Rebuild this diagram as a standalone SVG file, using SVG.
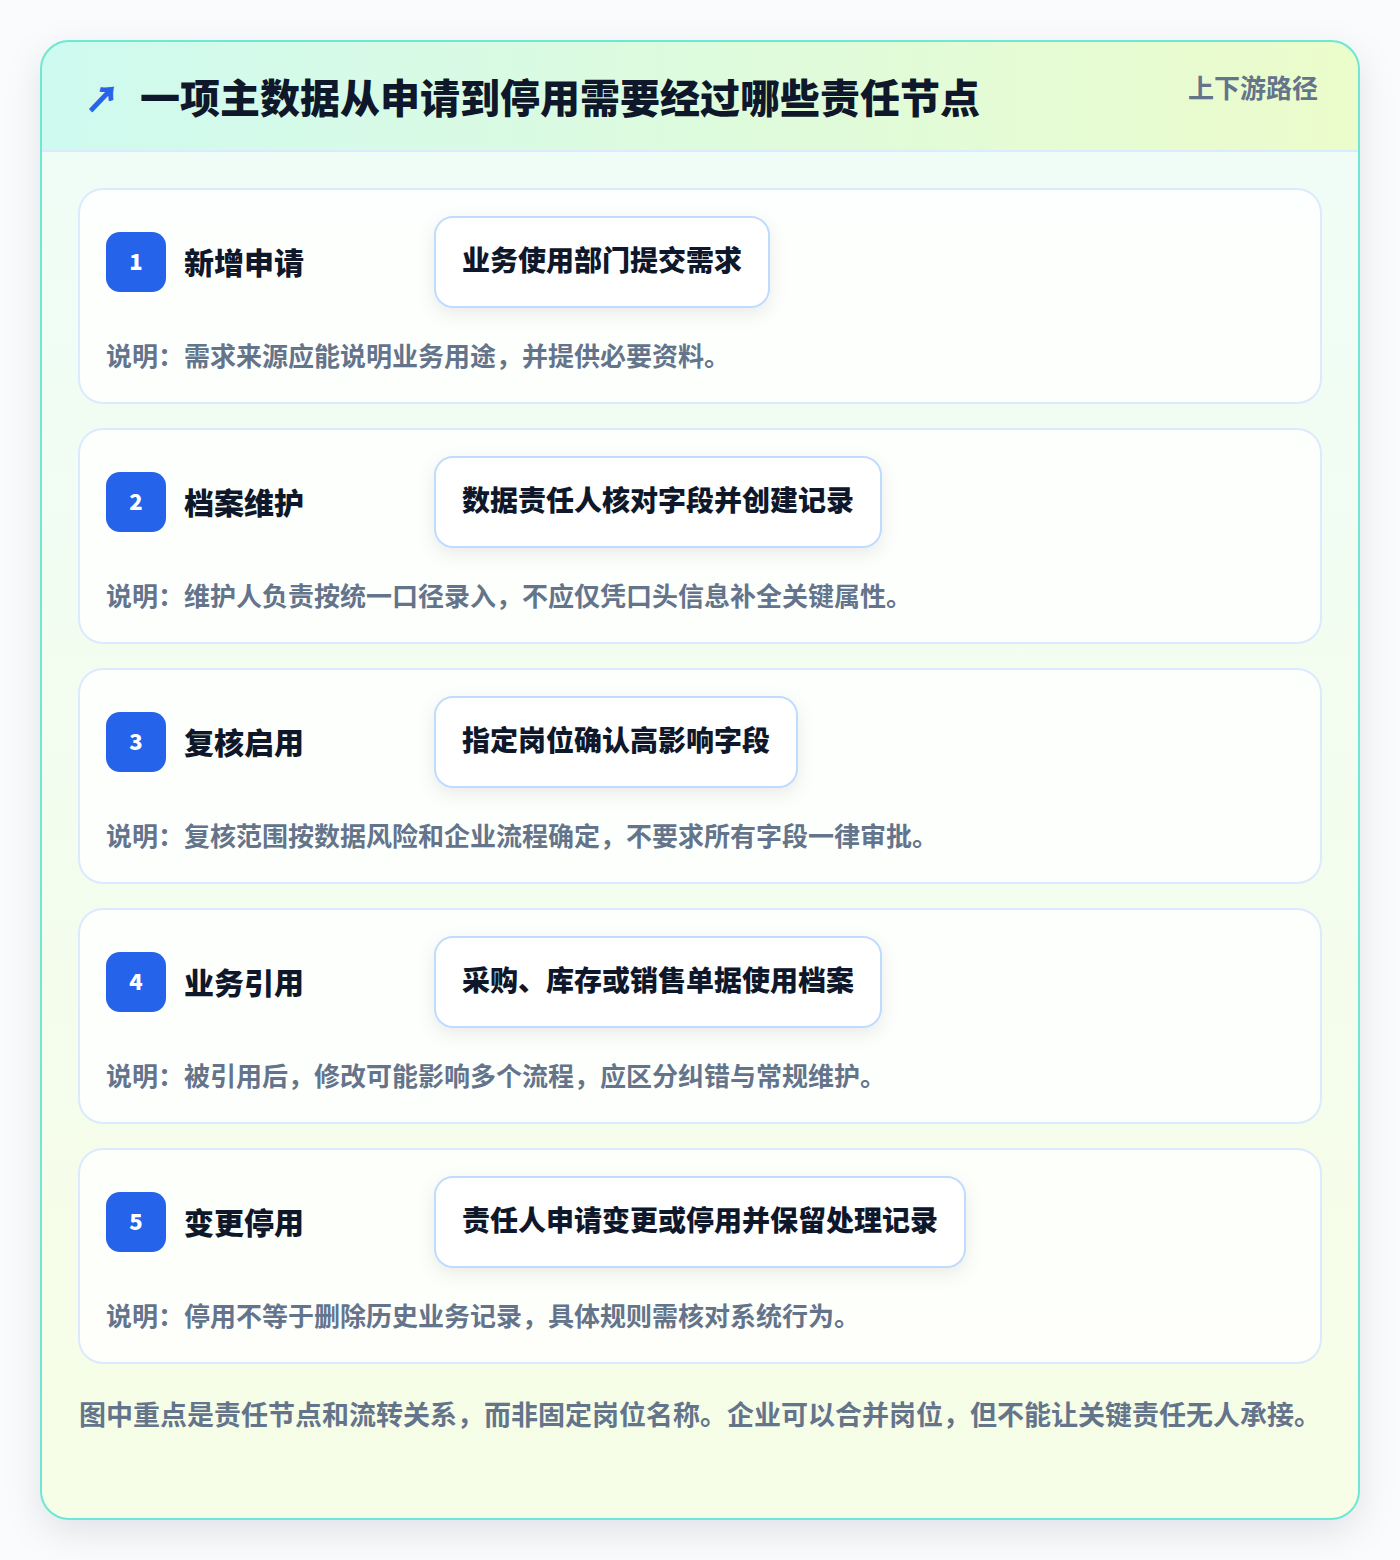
<svg xmlns="http://www.w3.org/2000/svg" width="1400" height="1560" viewBox="0 0 1400 1560">
<defs>
<linearGradient id="hdr" x1="0" y1="0" x2="1" y2="0">
<stop offset="0" stop-color="#cffaf0"/>
<stop offset="1" stop-color="#ecfccb"/>
</linearGradient>
<linearGradient id="body" x1="0" y1="0" x2="0" y2="1">
<stop offset="0" stop-color="#effdf8"/>
<stop offset="1" stop-color="#f7fde6"/>
</linearGradient>
<filter id="sh" x="-10%" y="-10%" width="120%" height="120%">
<feDropShadow dx="0" dy="12" stdDeviation="18" flood-color="#0f172a" flood-opacity="0.10"/>
</filter>
<filter id="bsh" x="-20%" y="-40%" width="140%" height="180%">
<feDropShadow dx="0" dy="6" stdDeviation="9" flood-color="#0f172a" flood-opacity="0.08"/>
</filter>
<clipPath id="outerClip"><rect x="41" y="41" width="1318" height="1478" rx="28"/></clipPath>
</defs>
<style>
text{font-family:"Noto Sans CJK SC","Noto Sans",sans-serif;}
.card{fill:#ffffff;fill-opacity:0.82;stroke:#dbeafe;stroke-width:2;}
.badge{fill:#2563eb;}
.num{fill:#ffffff;font-size:22px;font-weight:800;text-anchor:middle;}
.stitle{fill:#0f172a;font-size:30px;font-weight:800;}
.abox{fill:#ffffff;stroke:#bfdbfe;stroke-width:2;}
.atext{fill:#0f172a;font-size:28px;font-weight:800;}
.desc{fill:#64748b;font-size:26px;font-weight:700;}
</style>
<rect x="0" y="0" width="1400" height="1560" fill="#fafbfc"/>
<g id="frame">
<rect x="41" y="41" width="1318" height="1478" rx="28" fill="url(#body)" filter="url(#sh)"/>
<g clip-path="url(#outerClip)">
<rect x="41" y="41" width="1318" height="110" fill="url(#hdr)"/>
<line x1="41" y1="151" x2="1359" y2="151" stroke="#dbeafe" stroke-width="2"/>
</g>
<rect x="41" y="41" width="1318" height="1478" rx="28" fill="none" stroke="#6ee7d4" stroke-width="2"/>
</g>
<g id="header">
<text x="85" y="112" font-size="34" font-weight="700" fill="#2563eb" font-family="DejaVu Sans, sans-serif" stroke="#2563eb" stroke-width="1.2">↗</text>
<text x="140" y="113" font-size="40" font-weight="900" fill="#0f172a">一项主数据从申请到停用需要经过哪些责任节点</text>
<text x="1318" y="98" font-size="26" font-weight="700" fill="#64748b" text-anchor="end">上下游路径</text>
</g>
<g id="step1">
<rect class="card" x="79" y="189" width="1242" height="214" rx="24"/>
<rect class="badge" x="106" y="232" width="60" height="60" rx="14"/>
<text class="num" x="136" y="270">1</text>
<text class="stitle" x="184" y="274">新增申请</text>
<rect class="abox" x="435" y="217" width="334" height="90" rx="18" filter="url(#bsh)"/>
<text class="atext" x="462" y="271">业务使用部门提交需求</text>
<text class="desc" x="106" y="366">说明：需求来源应能说明业务用途，并提供必要资料。</text>
</g>
<g id="step2">
<rect class="card" x="79" y="429" width="1242" height="214" rx="24"/>
<rect class="badge" x="106" y="472" width="60" height="60" rx="14"/>
<text class="num" x="136" y="510">2</text>
<text class="stitle" x="184" y="514">档案维护</text>
<rect class="abox" x="435" y="457" width="446" height="90" rx="18" filter="url(#bsh)"/>
<text class="atext" x="462" y="511">数据责任人核对字段并创建记录</text>
<text class="desc" x="106" y="606">说明：维护人负责按统一口径录入，不应仅凭口头信息补全关键属性。</text>
</g>
<g id="step3">
<rect class="card" x="79" y="669" width="1242" height="214" rx="24"/>
<rect class="badge" x="106" y="712" width="60" height="60" rx="14"/>
<text class="num" x="136" y="750">3</text>
<text class="stitle" x="184" y="754">复核启用</text>
<rect class="abox" x="435" y="697" width="362" height="90" rx="18" filter="url(#bsh)"/>
<text class="atext" x="462" y="751">指定岗位确认高影响字段</text>
<text class="desc" x="106" y="846">说明：复核范围按数据风险和企业流程确定，不要求所有字段一律审批。</text>
</g>
<g id="step4">
<rect class="card" x="79" y="909" width="1242" height="214" rx="24"/>
<rect class="badge" x="106" y="952" width="60" height="60" rx="14"/>
<text class="num" x="136" y="990">4</text>
<text class="stitle" x="184" y="994">业务引用</text>
<rect class="abox" x="435" y="937" width="446" height="90" rx="18" filter="url(#bsh)"/>
<text class="atext" x="462" y="991">采购、库存或销售单据使用档案</text>
<text class="desc" x="106" y="1086">说明：被引用后，修改可能影响多个流程，应区分纠错与常规维护。</text>
</g>
<g id="step5">
<rect class="card" x="79" y="1149" width="1242" height="214" rx="24"/>
<rect class="badge" x="106" y="1192" width="60" height="60" rx="14"/>
<text class="num" x="136" y="1230">5</text>
<text class="stitle" x="184" y="1234">变更停用</text>
<rect class="abox" x="435" y="1177" width="530" height="90" rx="18" filter="url(#bsh)"/>
<text class="atext" x="462" y="1231">责任人申请变更或停用并保留处理记录</text>
<text class="desc" x="106" y="1326">说明：停用不等于删除历史业务记录，具体规则需核对系统行为。</text>
</g>
<g id="connectors"></g>
<g id="footer">
<text class="desc" x="79" y="1425" font-size="27" style="font-size:27px">图中重点是责任节点和流转关系，而非固定岗位名称。企业可以合并岗位，但不能让关键责任无人承接。</text>
</g>
</svg>
